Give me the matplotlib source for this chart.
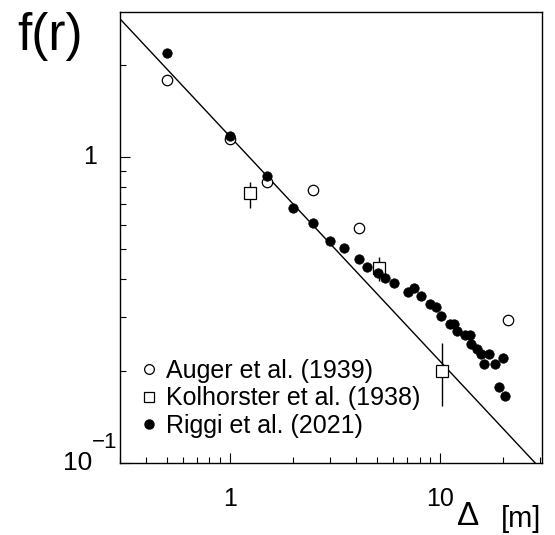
import numpy as np
import matplotlib
matplotlib.use("Agg")
import matplotlib.pyplot as plt
from matplotlib.lines import Line2D
from matplotlib.ticker import LogLocator, NullFormatter
import matplotlib.transforms as mtrans

plt.rcParams['font.family'] = ['Liberation Sans', 'DejaVu Sans']

# Riggi et al. (2021) - filled dots
riggi_x = [0.5, 1.0, 1.5, 2.0, 2.5, 3.0, 3.5, 4.1, 4.5, 5.05, 5.5, 6.05, 7.05, 7.55,
           8.1, 9.0, 9.55, 10.1, 11.2, 11.7, 12.1, 13.15, 13.9, 14.1, 15.0, 15.6,
           17.1, 16.2, 18.3, 19.9, 19.2, 20.3]
riggi_y = [2.19, 1.17, 0.87, 0.68, 0.611, 0.532, 0.504, 0.464, 0.437, 0.419, 0.401,
           0.389, 0.363, 0.372, 0.352, 0.331, 0.323, 0.302, 0.285, 0.284, 0.271,
           0.263, 0.262, 0.244, 0.235, 0.227, 0.227, 0.21, 0.21, 0.22, 0.177, 0.166]

# Auger et al. (1939) - open circles
auger_x = [0.5, 1.0, 1.5, 2.5, 4.1, 21.1]
auger_y = [1.78, 1.145, 0.832, 0.778, 0.586, 0.294]

# Kolhorster et al. (1938) - open squares with error bars
kolh_x = [1.25, 5.15, 10.25]
kolh_y = [0.763, 0.434, 0.2]
kolh_lo = [0.681, 0.392, 0.153]
kolh_hi = [0.832, 0.472, 0.247]

# power-law reference line (end points)
fit_x = [0.3, 28.4]
fit_y = [2.83, 0.1]

fig = plt.figure(figsize=(5.55, 5.35), dpi=100)
ax = fig.add_axes([120/555, 1-463/535, 422/555, 451/535])
ax.set_xscale('log')
ax.set_yscale('log')
ax.set_xlim(0.3, 30.6)
ax.set_ylim(0.1, 2.98)

ax.plot(fit_x, fit_y, color='black', lw=1.0, zorder=2)

yerr = [np.array(kolh_y) - np.array(kolh_lo), np.array(kolh_hi) - np.array(kolh_y)]
ax.errorbar(kolh_x, kolh_y, yerr=yerr, fmt='none', ecolor='black', elinewidth=1.0, capsize=0, zorder=3)
ax.plot(kolh_x, kolh_y, 's', ms=8, mfc='white', mec='black', mew=0.9, zorder=4)
ax.plot(auger_x, auger_y, 'o', ms=7.5, mfc='white', mec='black', mew=0.9, zorder=4)
ax.plot(riggi_x, riggi_y, 'o', ms=6.8, mfc='black', mec='black', mew=0.5, zorder=5)

# ticks
ax.xaxis.set_major_locator(LogLocator(base=10))
ax.xaxis.set_minor_locator(LogLocator(base=10, subs=np.arange(2, 10)))
ax.yaxis.set_minor_locator(LogLocator(base=10, subs=np.arange(2, 10)))
ax.xaxis.set_minor_formatter(NullFormatter())
ax.yaxis.set_minor_formatter(NullFormatter())
ax.set_xticks([1, 10])
ax.set_xticklabels(['1', '10'])
ax.set_yticks([0.1, 1])
ax.set_yticklabels([])
ax.tick_params(which='both', direction='in', top=False, right=False, width=0.8)
ax.tick_params(which='major', length=7)
ax.tick_params(which='minor', length=4)
ax.tick_params(axis='x', which='major', labelsize=18, pad=17)
for sp in ax.spines.values():
    sp.set_linewidth(1.0)

# y tick labels drawn as text
trans = mtrans.blended_transform_factory(fig.transFigure, ax.transData)
ax.text(97/555, 1.0, '1', transform=trans, ha='right', va='center', fontsize=18)
ax.text(92/555, 0.1, '10', transform=trans, ha='right', va='center', fontsize=19)
ax.text(92/555, 0.117, '\u22121', transform=trans, ha='left', va='center', fontsize=16)

# axis titles
fig.text(17/555, 1-50/535, 'f(r)', fontsize=37, ha='left', va='baseline')
fig.text(457/555, 1-525/535, '\u0394', fontsize=24, ha='left', va='baseline')
fig.text(501/555, 1-527/535, '[m]', fontsize=21, ha='left', va='baseline')

handles = [
    Line2D([], [], ls='none', marker='o', ms=7, mfc='white', mec='black', mew=0.9),
    Line2D([], [], ls='none', marker='s', ms=7, mfc='white', mec='black', mew=0.9),
    Line2D([], [], ls='none', marker='o', ms=6.5, mfc='black', mec='black'),
]
labels = ['Auger et al. (1939)', 'Kolhorster et al. (1938)', 'Riggi et al. (2021)']
ax.legend(handles, labels, loc='lower left', bbox_to_anchor=(0.052, 0.055),
          frameon=False, fontsize=18, handlelength=0.6, handletextpad=0.35,
          labelspacing=0.15, borderpad=0, borderaxespad=0)

fig.savefig('out.png', dpi=100)
